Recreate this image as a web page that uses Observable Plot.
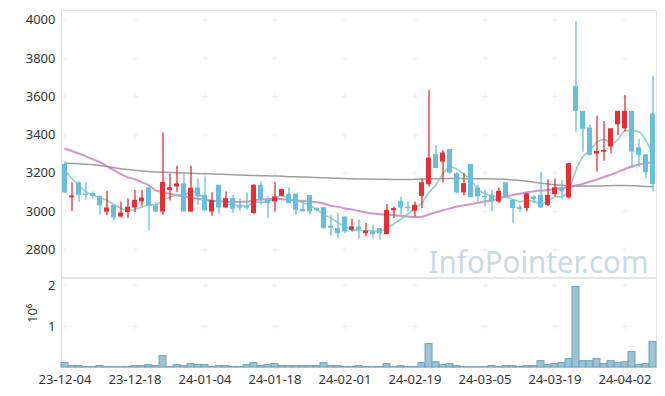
<!DOCTYPE html>
<html><head><meta charset="utf-8">
<script src="https://cdn.jsdelivr.net/npm/d3@7"></script>
<script src="https://cdn.jsdelivr.net/npm/@observablehq/plot@0.6"></script>
<style>
body{margin:0;background:#fff;}
#wrap{position:relative;width:665px;height:396px;overflow:hidden;}
#wrap svg{position:absolute;left:0;}
</style></head><body><div id="wrap"></div>
<script>
const dates = [
"23-12-04","23-12-05","23-12-06","23-12-07","23-12-08","23-12-11","23-12-12","23-12-13","23-12-14","23-12-15",
"23-12-18","23-12-19","23-12-20","23-12-21","23-12-22","23-12-26","23-12-27","23-12-28","24-01-02","24-01-03",
"24-01-04","24-01-05","24-01-08","24-01-09","24-01-10","24-01-11","24-01-12","24-01-15","24-01-16","24-01-17",
"24-01-18","24-01-19","24-01-22","24-01-23","24-01-24","24-01-25","24-01-26","24-01-29","24-01-30","24-01-31",
"24-02-01","24-02-02","24-02-05","24-02-06","24-02-07","24-02-08","24-02-13","24-02-14","24-02-15","24-02-16",
"24-02-19","24-02-20","24-02-21","24-02-22","24-02-23","24-02-26","24-02-27","24-02-28","24-02-29","24-03-04",
"24-03-05","24-03-06","24-03-07","24-03-08","24-03-11","24-03-12","24-03-13","24-03-14","24-03-15","24-03-18",
"24-03-19","24-03-20","24-03-21","24-03-22","24-03-25","24-03-26","24-03-27","24-03-28","24-03-29","24-04-01",
"24-04-02","24-04-03","24-04-04","24-04-05","24-04-08"];

const open = [3246,3071,3149,3090,3093,3079,2997,3032,2971,2994, 3018,3050,3123,3029,2997,3110,3128,3144,2997,3123,
3084,2997,3137,3018,3067,3027,3027,2989,3137,3058, 3050,3079,3090,3090,3010,3084,3015,3020,2923,2910,
2971,2902,2919,2884,2893,2911,2879,3003,3053,3023, 3001,3079,3140,3297,3258,3324,3197,3097,3246,3123,
3079,3084,3050,3150,3058,3020,3015,3076,3084,3032, 3088,3124,3071,3653,3523,3436,3300,3310,3337,3453,
3432,3523,3333,3296,3510];
const high = [3258,3150,3157,3150,3102,3080,3105,3035,3050,3067, 3109,3110,3125,3046,3410,3194,3236,3192,3236,3168,
3180,3098,3137,3102,3084,3067,3098,3140,3154,3076, 3151,3118,3124,3090,3058,3084,3020,3020,2980,2989,
2971,2959,2954,2937,2928,2911,3036,3023,3076,3050, 3050,3171,3632,3345,3319,3324,3206,3197,3246,3137,
3111,3111,3123,3150,3058,3032,3093,3084,3203,3166, 3171,3163,3250,3992,3523,3450,3497,3470,3432,3523,
3606,3523,3377,3296,3707];
const low = [3095,3000,3046,3058,3067,2980,2977,2954,2966,2963, 2994,3024,2900,2994,2980,3055,3098,2997,2997,3032,
3003,2975,2985,3018,2989,3001,3006,2985,3032,2963, 2997,3076,3041,2980,2997,2980,2997,2910,2871,2858,
2884,2893,2858,2867,2858,2850,2879,2963,2980,2997, 2971,3015,3128,3224,3149,3195,3093,3084,3072,3050,
3024,2998,3041,3070,2937,2994,2998,3041,3018,3024, 3076,3064,3064,3411,3310,3290,3206,3262,3302,3397,
3415,3224,3232,3171,3102];
const close = [3097,3081,3084,3083,3079,3029,3018,2966,2992,3022, 3058,3070,3029,2997,3152,3124,3144,2997,3121,3076,
3003,3058,3018,3067,3011,3018,3018,3137,3058,3041, 3076,3114,3041,3006,2998,2998,3005,2910,2912,2884,
2893,2919,2902,2897,2879,2884,3006,3015,3018,3015, 3032,3150,3279,3224,3305,3200,3097,3145,3072,3076,
3072,3050,3105,3072,3015,3011,3093,3062,3018,3084, 3124,3102,3250,3523,3429,3293,3314,3319,3432,3523,
3523,3310,3293,3203,3140];
const volume = [107000,34000,34000,10000,10000,34000,10000,10000,10000,10000,
34000,34000,58000,34000,277000,10000,58000,34000,83000,58000,
58000,10000,34000,34000,10000,10000,58000,107000,34000,58000,
83000,34000,34000,34000,34000,34000,34000,107000,34000,34000,
10000,10000,34000,10000,10000,10000,83000,10000,34000,10000,
10000,107000,570000,130000,58000,83000,34000,10000,10000,10000,
10000,34000,10000,34000,34000,10000,34000,34000,155000,58000,
83000,107000,204000,1960000,155000,155000,204000,83000,155000,107000,
130000,375000,58000,83000,620000];
const ma5 = [3215,3171,3137,3102,3085,3071,3059,3035,3017,3005, 3011,3022,3034,3035,3061,3074,3089,3083,3108,3092,
3068,3051,3055,3044,3031,3034,3026,3050,3048,3054, 3066,3085,3066,3056,3047,3031,3010,2983,2965,2942,
2921,2904,2902,2899,2898,2896,2914,2936,2960,2988, 3017,3046,3099,3140,3198,3232,3221,3194,3164,3118,
3092,3083,3075,3075,3063,3051,3059,3051,3040,3054, 3076,3078,3116,3217,3286,3319,3362,3376,3357,3376,
3422,3421,3416,3370,3294];
const ma20 = [3328,3316,3302,3288,3272,3258,3236,3215,3195,3178, 3168,3152,3137,3110,3100,3092,3085,3078,3072,3066,
3060,3056,3053,3051,3050,3050,3052,3058,3062,3064, 3066,3064,3061,3058,3055,3052,3048,3040,3030,3024,
3016,3010,3002,2995,2989,2985,2982,2980,2977,2974, 2971,2973,2984,2996,3006,3016,3026,3032,3038,3045,
3052,3058,3068,3078,3086,3093,3100,3105,3109,3112, 3118,3122,3128,3136,3145,3155,3167,3180,3192,3207,
3222,3235,3245,3252,3258];
const ma120 = [3253,3251,3249,3247,3244,3240,3235,3229,3223,3219, 3215,3212,3209,3206,3205,3204,3202,3201,3200,3198,
3197,3196,3195,3193,3192,3190,3189,3188,3187,3186, 3185,3184,3182,3181,3180,3179,3177,3176,3175,3173,
3172,3171,3170,3170,3169,3168,3168,3167,3167,3167, 3168,3169,3170,3171,3172,3172,3172,3172,3171,3171,
3171,3170,3170,3168,3165,3162,3158,3153,3148,3144, 3140,3137,3135,3134,3133,3133,3133,3134,3135,3136,
3136,3135,3133,3131,3130];

const priceTicks = [2800,3000,3200,3400,3600,3800,4000];
const volumeTicks = [1000000,2000000];
const labelDates = dates.filter((d,i)=>i%10===0);
const watermark = "InfoPointer.com";
const volumeLabel = "10⁶";

const UP = "#ea2c33", DOWN = "#68bfdb";
const rows = dates.map((d,i)=>({date:d, open:open[i], high:high[i], low:low[i], close:close[i],
  volume:volume[i], ma5:ma5[i], ma20:ma20[i], ma120:ma120[i],
  color: close[i] >= open[i] ? UP : DOWN}));
const priceGrid = labelDates.flatMap(d=>priceTicks.map(v=>({d,v})));
const volGrid = labelDates.flatMap(d=>volumeTicks.map(v=>({d,v})));

const FONT = "'Noto Sans', sans-serif";
const W = 665, ML = 61, MR = 9;
const style = {fontFamily:FONT, fontSize:"13px", color:"#333", background:"transparent", overflow:"visible"};

const topPlot = Plot.plot({
  width:W, height:278, marginTop:10, marginBottom:1, marginLeft:ML, marginRight:MR,
  style,
  color:{type:"identity"},
  x:{type:"band", domain:dates, padding:0, axis:null},
  y:{domain:[2655,4050], ticks:priceTicks, tickFormat:d=>String(d), tickSize:0, tickPadding:6, label:null},
  marks:[
    Plot.frame({stroke:"#e4e4e4"}),
    Plot.dot(priceGrid, {x:"d", y:"v", symbol:"plus", r:2, stroke:"#ececec", strokeWidth:1}),
    Plot.text([watermark], {frameAnchor:"bottom-right", dx:-8, dy:-5, fontSize:31, fill:"#c9d9e5", text:d=>d}),
    Plot.line(rows, {x:"date", y:"ma120", stroke:"#8e8e8e", strokeWidth:1.5, strokeOpacity:0.85, curve:"monotone-x"}),
    Plot.line(rows, {x:"date", y:"ma20", stroke:"#c47cbf", strokeWidth:2, strokeOpacity:0.8, curve:"monotone-x"}),
    Plot.line(rows, {x:"date", y:"ma5", stroke:"#7cc8bb", strokeWidth:1.6, strokeOpacity:0.85, curve:"monotone-x"}),
    Plot.ruleX(rows, {x:"date", y1:"low", y2:"high", stroke:"color", strokeWidth:1.3}),
    Plot.barY(rows, {x:"date", y1:"open", y2:"close", fill:"color", insetLeft:1, insetRight:1})
  ]
});

const bottomPlot = Plot.plot({
  width:W, height:119, marginTop:1, marginBottom:29, marginLeft:ML, marginRight:MR,
  style,
  x:{type:"band", domain:dates, padding:0, ticks:labelDates, tickSize:0, tickPadding:7, label:null},
  y:{domain:[0,2170000], ticks:volumeTicks, tickFormat:d=>String(d/1000000), tickSize:0, tickPadding:6, label:null},
  marks:[
    Plot.frame({stroke:"#e4e4e4"}),
    Plot.dot(volGrid, {x:"d", y:"v", symbol:"plus", r:2, stroke:"#ececec", strokeWidth:1}),
    Plot.barY(rows, {x:"date", y:"volume", fill:"#9cc3d5", stroke:"#6ea2ba", strokeWidth:1}),
    Plot.text([volumeLabel], {frameAnchor:"left", dx:-29, rotate:-90, fontSize:13, fill:"#333", text:d=>d})
  ]
});

const wrap = document.getElementById("wrap");
topPlot.style.top = "0px";
bottomPlot.style.top = "277px";
wrap.appendChild(topPlot);
wrap.appendChild(bottomPlot);
d3.select(topPlot).selectAll("text").filter(function(){return this.textContent===watermark;})
  .attr("textLength",220).attr("lengthAdjust","spacingAndGlyphs");
</script></body></html>
